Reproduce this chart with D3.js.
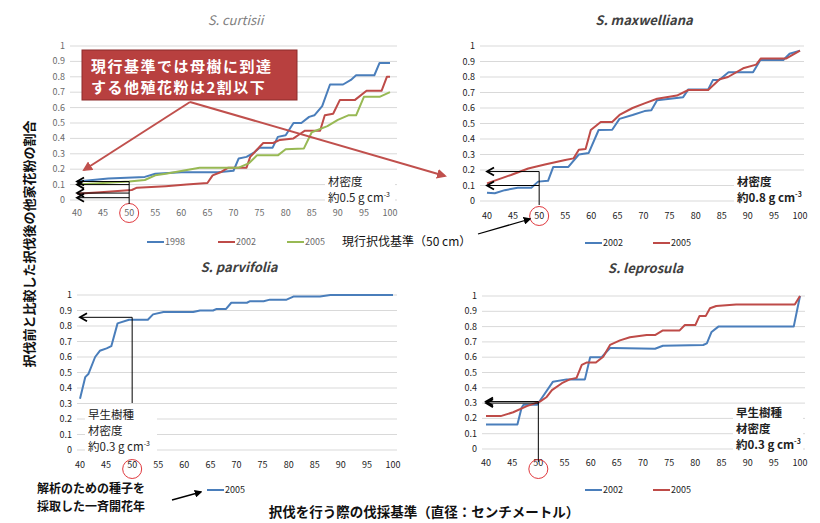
<!DOCTYPE html>
<html>
<head>
<meta charset="utf-8">
<script src="https://cdn.jsdelivr.net/npm/d3@7"></script>
<style>
  body { margin: 0; background: #fff; }
  text { font-family: "Noto Sans CJK JP", "Noto Sans", sans-serif; }
</style>
</head>
<body>
<div id="chart"></div>
<script>
const BLUE = "#4a7ebb"
const RED = "#be4b48"
const GREEN = "#98b954"
const GRID = "#d9d9d9"

// x ticks / y ticks
const xTicks = [40, 45, 50, 55, 60, 65, 70, 75, 80, 85, 90, 95, 100]
const yTicks = [0, 0.1, 0.2, 0.3, 0.4, 0.5, 0.6, 0.7, 0.8, 0.9, 1]

// S. curtisii
const cuX98 = [40, 46, 53, 55, 60, 67, 70, 71, 72.5, 74, 75, 77.5, 78.5, 80, 81.5, 83, 84.5, 85.5, 87, 88.5, 91, 92.5, 93.5, 97, 98, 100]
const cuY98 = [0.12, 0.14, 0.15, 0.17, 0.18, 0.18, 0.19, 0.27, 0.28, 0.31, 0.34, 0.34, 0.41, 0.42, 0.50, 0.50, 0.54, 0.55, 0.61, 0.75, 0.75, 0.78, 0.81, 0.81, 0.89, 0.89]
const cuX02 = [40, 44.5, 50.5, 51.5, 57, 61, 65, 66, 67.5, 69, 71.5, 72.5, 73.2, 75.7, 77.6, 78.9, 81.5, 82.8, 83.7, 86.6, 87.5, 89.1, 90.4, 93.3, 95.5, 98.4, 99.4, 100]
const cuY02 = [0.04, 0.05, 0.065, 0.08, 0.09, 0.10, 0.11, 0.16, 0.18, 0.21, 0.21, 0.21, 0.28, 0.37, 0.37, 0.39, 0.40, 0.43, 0.45, 0.45, 0.55, 0.56, 0.65, 0.65, 0.71, 0.71, 0.80, 0.80]
const cuX05 = [40, 45, 50, 53, 55, 57, 63.5, 71, 73, 74.5, 78.5, 80, 83.5, 85, 88, 90, 92, 93.5, 95, 98, 100]
const cuY05 = [0.10, 0.11, 0.12, 0.13, 0.16, 0.17, 0.21, 0.21, 0.24, 0.29, 0.29, 0.33, 0.335, 0.44, 0.48, 0.52, 0.55, 0.55, 0.67, 0.67, 0.70]

// S. maxwelliana
const mxX02 = [40, 41.5, 43.4, 45.9, 48.5, 49.8, 51.7, 52.7, 55.6, 57.6, 59.5, 61.4, 64, 65.4, 67.9, 70.2, 71.5, 72.6, 77.6, 78.6, 82.4, 83.3, 84.5, 86.3, 91, 92.4, 96.8, 98, 100]
const mxY02 = [0.054, 0.05, 0.07, 0.085, 0.085, 0.125, 0.13, 0.22, 0.22, 0.30, 0.31, 0.458, 0.46, 0.53, 0.555, 0.58, 0.585, 0.65, 0.67, 0.72, 0.72, 0.78, 0.78, 0.83, 0.83, 0.91, 0.91, 0.95, 0.97]
const mxX05 = [40, 44.6, 47.9, 51.1, 55, 56.6, 57.6, 58.9, 59.9, 61.8, 64, 65.4, 67.9, 70.2, 72.6, 76.4, 78.6, 82.4, 84.6, 86.2, 89.1, 91.6, 92.5, 97.4, 100]
const mxY05 = [0.114, 0.168, 0.21, 0.235, 0.265, 0.275, 0.33, 0.335, 0.458, 0.51, 0.51, 0.555, 0.60, 0.63, 0.66, 0.68, 0.716, 0.716, 0.785, 0.80, 0.856, 0.88, 0.92, 0.92, 0.97]

// S. parvifolia
const pvX05 = [40, 41, 41.6, 42.9, 43.8, 45.1, 46, 47.2, 49.4, 53, 54, 56, 61.7, 63, 65.5, 66.2, 68, 69, 72, 72.6, 75.2, 76.4, 79.6, 80.9, 86, 88, 100]
const pvY05 = [0.33, 0.47, 0.49, 0.60, 0.64, 0.656, 0.67, 0.817, 0.84, 0.84, 0.875, 0.89, 0.89, 0.90, 0.90, 0.91, 0.91, 0.95, 0.95, 0.96, 0.96, 0.97, 0.97, 0.99, 0.99, 1.0, 1.0]

// S. leprosula
const lpX02 = [40, 46, 46.8, 47.2, 49.8, 50.6, 52.8, 55.4, 58.9, 59.9, 62.1, 63.7, 64.3, 72.3, 73.8, 81.5, 82.2, 83.1, 84.4, 98.8, 100]
const lpY02 = [0.16, 0.16, 0.27, 0.29, 0.29, 0.33, 0.44, 0.455, 0.455, 0.60, 0.60, 0.66, 0.66, 0.655, 0.675, 0.68, 0.69, 0.765, 0.80, 0.80, 1.0]
const lpX05 = [40, 42.8, 45.2, 47.8, 50.3, 51.6, 52.6, 54.5, 56, 57.3, 58.3, 59.2, 61, 62.4, 63.7, 65.6, 67.5, 70.7, 72.3, 73.8, 77, 78, 80, 80.8, 82, 82.8, 84, 87.8, 99, 100]
const lpY05 = [0.215, 0.215, 0.24, 0.28, 0.31, 0.34, 0.385, 0.43, 0.455, 0.465, 0.55, 0.565, 0.565, 0.603, 0.68, 0.71, 0.73, 0.745, 0.745, 0.775, 0.775, 0.81, 0.81, 0.87, 0.87, 0.92, 0.935, 0.945, 0.945, 1.0]

let width = 820, height = 523
let svg = d3.select("#chart").append("svg").attr("width", width).attr("height", height)

const panels = [
  { title: "S. curtisii", bold: false, x0: 77, x1: 390, yTop: 46, yBot: 200, gL: 70, gR: 397, labY: 216, circY: 213, tickColor: "#6b6b6b", tickFont: "Noto Sans",
    series: [{ x: cuX98, y: cuY98, c: BLUE, name: "1998" }, { x: cuX02, y: cuY02, c: RED, name: "2002" }, { x: cuX05, y: cuY05, c: GREEN, name: "2005" }],
    titleY: 25, legY: 242, legX: [147, 218, 287] },
  { title: "S. maxwelliana", bold: true, x0: 487, x1: 800, yTop: 46, yBot: 201, gL: 480, gR: 804, labY: 219, circY: 216, tickColor: "#222", tickFont: "Liberation Serif",
    series: [{ x: mxX02, y: mxY02, c: BLUE, name: "2002" }, { x: mxX05, y: mxY05, c: RED, name: "2005" }],
    titleY: 25, legY: 243, legX: [585, 653] },
  { title: "S. parvifolia", bold: true, x0: 80, x1: 393, yTop: 295, yBot: 450, gL: 77, gR: 397, labY: 468, circY: 469, tickColor: "#222", tickFont: "Liberation Serif",
    series: [{ x: pvX05, y: pvY05, c: BLUE, name: "2005" }],
    titleY: 272, legY: 490, legX: [207] },
  { title: "S. leprosula", bold: true, x0: 486, x1: 800, yTop: 296, yBot: 449, gL: 482, gR: 805, labY: 466, circY: 469, tickColor: "#222", tickFont: "Liberation Serif",
    series: [{ x: lpX02, y: lpY02, c: BLUE, name: "2002" }, { x: lpX05, y: lpY05, c: RED, name: "2005" }],
    titleY: 273, legY: 490, legX: [585, 653] }
]

panels.forEach(function (p) {
  p.xs = d3.scaleLinear().domain([40, 100]).range([p.x0, p.x1])
  p.ys = d3.scaleLinear().domain([0, 1]).range([p.yBot, p.yTop])
  let g = svg.append("g")

  g.selectAll("line.grid").data(yTicks).join("line").attr("class", "grid")
    .attr("x1", p.gL).attr("x2", p.gR)
    .attr("y1", d => p.ys(d)).attr("y2", d => p.ys(d))
    .attr("stroke", GRID).attr("stroke-width", 1)

  g.selectAll("text.ylab").data(yTicks).join("text").attr("class", "ylab")
    .attr("x", p.gL - 5).attr("y", d => p.ys(d) + 3)
    .attr("text-anchor", "end").attr("font-size", "9px").attr("fill", p.tickColor)
    .attr("font-family", p.tickFont)
    .text(d => d3.format("~g")(d))

  g.selectAll("text.xlab").data(xTicks).join("text").attr("class", "xlab")
    .attr("x", d => p.xs(d)).attr("y", p.labY)
    .attr("text-anchor", "middle").attr("font-size", "9px").attr("fill", p.tickColor)
    .attr("font-family", p.tickFont)
    .text(d => d)

  g.append("text").attr("x", (p.gL + p.gR) / 2 + 2).attr("y", p.titleY)
    .attr("text-anchor", "middle").attr("font-size", "13px")
    .attr("font-style", "italic").attr("font-weight", p.bold ? "bold" : "normal")
    .attr("fill", p.bold ? "#404040" : "#7f7f7f")
    .attr("font-family", "Open Sans")
    .text(p.title)

  p.series.forEach(function (s, i) {
    let pts = s.x.map((v, k) => [v, s.y[k]])
    let line = d3.line().x(d => p.xs(d[0])).y(d => p.ys(d[1]))
    g.append("path").attr("d", line(pts)).attr("fill", "none")
      .attr("stroke", s.c).attr("stroke-width", 2).attr("stroke-linejoin", "round")

    let lx = p.legX[i]
    g.append("line").attr("x1", lx).attr("x2", lx + 17).attr("y1", p.legY).attr("y2", p.legY)
      .attr("stroke", s.c).attr("stroke-width", 2)
    g.append("text").attr("x", lx + 18).attr("y", p.legY + 3)
      .attr("font-size", "9px").attr("fill", p.tickColor).attr("font-family", p.tickFont)
      .text(s.name)
  })

  // red circle around 50
  g.append("circle").attr("cx", p.xs(50)).attr("cy", p.circY).attr("r", 9.5)
    .attr("fill", "none").attr("stroke", "#e0393e").attr("stroke-width", 1)
})

// white boxes + density notes
function note(px, py, lines, bold, boxW) {
  svg.append("rect").attr("x", px - 3).attr("y", py - 13).attr("width", boxW).attr("height", lines.length * 16 + 4).attr("fill", "#fff")
  lines.forEach(function (l, i) {
    let t = svg.append("text").attr("x", px).attr("y", py + i * 16)
      .attr("font-size", "11.5px").attr("fill", "#222").attr("font-weight", bold ? "bold" : "normal")
    if (l.indexOf("cm") > 0) {
      t.append("tspan").text(l)
      t.append("tspan").attr("font-size", "7px").attr("dy", -5).text("-3")
    } else t.text(l)
  })
}
note(328, 186, ["材密度", "約0.5 g cm"], false, 70)
note(737, 186, ["材密度", "約0.8 g cm"], true, 70)
note(88, 419, ["早生樹種", "材密度", "約0.3 g cm"], false, 72)
note(736, 417, ["早生樹種", "材密度", "約0.3 g cm"], true, 70)

// black arrows at 50 cm
function arrowLeft(p, v) {
  let x50 = p.xs(50), x40 = p.xs(40), y = p.ys(v)
  svg.append("line").attr("x1", x50).attr("x2", x40 + 1).attr("y1", y).attr("y2", y)
    .attr("stroke", "#000").attr("stroke-width", 1)
  svg.append("path").attr("d", `M${x40 + 7},${y - 4}L${x40},${y}L${x40 + 7},${y + 4}`)
    .attr("fill", "none").attr("stroke", "#000").attr("stroke-width", 1.8)
}
function vline(p, v0, yEnd) {
  svg.append("line").attr("x1", p.xs(50)).attr("x2", p.xs(50)).attr("y1", p.ys(v0)).attr("y2", yEnd)
    .attr("stroke", "#000").attr("stroke-width", 1)
}
let [p1, p2, p3, p4] = panels
;[0.12, 0.10, 0.045, 0.015].forEach(v => arrowLeft(p1, v))
vline(p1, 0.12, 204)
;[0.19, 0.10].forEach(v => arrowLeft(p2, v))
vline(p2, 0.19, 205)
arrowLeft(p3, 0.856)
vline(p3, 0.856, 403)
arrowLeft(p4, 0.31)
arrowLeft(p4, 0.30)
vline(p4, 0.31, 462)

// red callout box
svg.append("rect").attr("x", 82).attr("y", 50).attr("width", 215).attr("height", 50)
  .attr("fill", "#b8403f").attr("stroke", "#8c2a2a").attr("stroke-width", 1)
svg.append("text").attr("x", 91).attr("y", 72).attr("fill", "#fff").attr("font-size", "15px")
  .attr("letter-spacing", "1.5px").attr("font-weight", "bold").text("現行基準では母樹に到達")
svg.append("text").attr("x", 91).attr("y", 93).attr("fill", "#fff").attr("font-size", "15px")
  .attr("letter-spacing", "1.5px").attr("font-weight", "bold").text("する他殖花粉は2割以下")

svg.append("defs").append("marker").attr("id", "rh").attr("viewBox", "0 0 10 10")
  .attr("refX", 8).attr("refY", 5).attr("markerWidth", 5).attr("markerHeight", 5).attr("orient", "auto")
  .append("path").attr("d", "M0,0L10,5L0,10z").attr("fill", "#c0504d")
svg.append("line").attr("x1", 190).attr("y1", 102).attr("x2", 84).attr("y2", 170)
  .attr("stroke", "#c0504d").attr("stroke-width", 2).attr("marker-end", "url(#rh)")
svg.append("line").attr("x1", 190).attr("y1", 102).attr("x2", 445).attr("y2", 176)
  .attr("stroke", "#c0504d").attr("stroke-width", 2).attr("marker-end", "url(#rh)")

// black pointer arrows
svg.append("defs").append("marker").attr("id", "bh").attr("viewBox", "0 0 10 10")
  .attr("refX", 8).attr("refY", 5).attr("markerWidth", 6).attr("markerHeight", 6).attr("orient", "auto")
  .append("path").attr("d", "M0,0L10,5L0,10z").attr("fill", "#000")
svg.append("text").attr("x", 342).attr("y", 246).attr("font-size", "12px").attr("fill", "#111").text("現行択伐基準（50 cm）")
svg.append("line").attr("x1", 478).attr("y1", 234).attr("x2", 530).attr("y2", 219)
  .attr("stroke", "#000").attr("stroke-width", 1.3).attr("marker-end", "url(#bh)")
svg.append("line").attr("x1", 172).attr("y1", 500).attr("x2", 201).attr("y2", 492)
  .attr("stroke", "#000").attr("stroke-width", 1.3).attr("marker-end", "url(#bh)")

svg.append("text").attr("x", 37).attr("y", 493).attr("font-size", "12px").attr("font-weight", "bold").attr("fill", "#111").text("解析のための種子を")
svg.append("text").attr("x", 37).attr("y", 511).attr("font-size", "12px").attr("font-weight", "bold").attr("fill", "#111").text("採取した一斉開花年")

// axis titles
svg.append("text").attr("x", 424).attr("y", 517).attr("text-anchor", "middle")
  .attr("font-size", "13.5px").attr("font-weight", "bold").attr("fill", "#111")
  .text("択伐を行う際の伐採基準（直径：センチメートル）")
svg.append("text").attr("transform", "translate(34,244) rotate(-90)").attr("text-anchor", "middle")
  .attr("font-size", "13px").attr("font-weight", "bold").attr("fill", "#111")
  .text("択伐前と比較した択伐後の他家花粉の割合")
</script>
</body>
</html>
